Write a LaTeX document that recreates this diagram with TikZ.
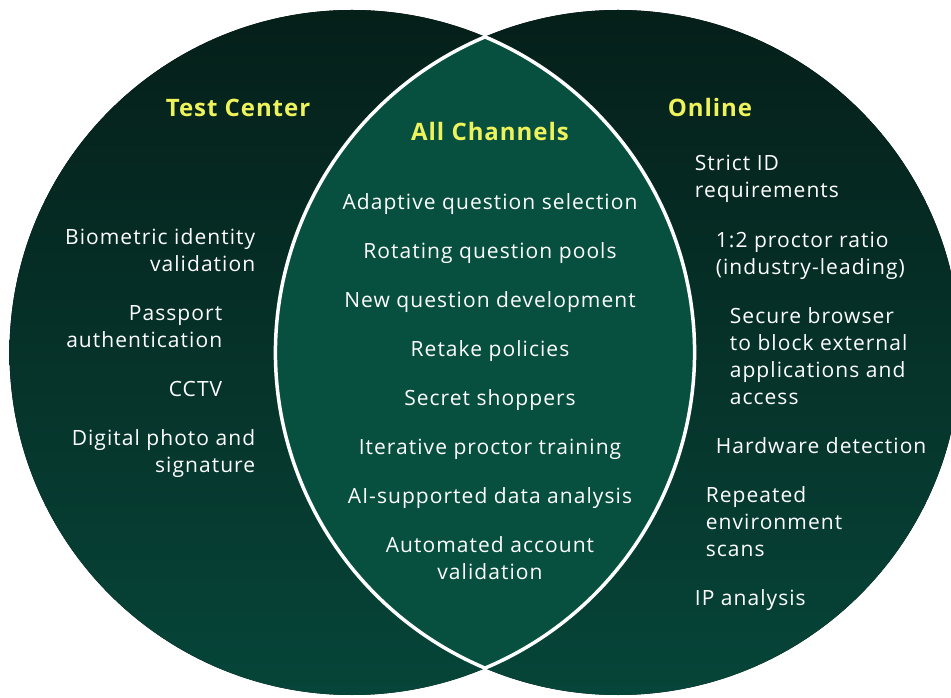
\documentclass[tikz,border=0pt]{standalone}
\usepackage{fontspec}
\setmainfont[LetterSpace=5]{Open Sans}
\newfontfamily\headfont[LetterSpace=4]{Open Sans}
\usetikzlibrary{positioning}
\definecolor{topgreen}{HTML}{051F19}
\definecolor{midgreen}{HTML}{05271F}
\definecolor{lowgreen}{HTML}{064539}
\definecolor{lensgreen}{HTML}{07503F}
\definecolor{headyellow}{HTML}{EEF25B}
\tikzset{ring/.style={top color=topgreen,middle color=midgreen,bottom color=lowgreen},
	 lens/.style={fill=lensgreen,draw=white,line width=3.5pt},
	 head/.style={text=headyellow,font=\headfont\fontsize{24}{27}\selectfont\bfseries,inner sep=0pt,anchor=base},
	 item/.style={text=white,font=\fontsize{21}{27}\selectfont\strut,inner sep=0pt},
	 node distance = 21.6pt
	 }

\begin{document}
\begin{tikzpicture}[x=1pt,y=1pt] % three channels of exam security
	\useasboundingbox (0,0) rectangle (951,697);
	\coordinate (cL) at (352,344.5);
	\coordinate (cR) at (618,344.5);
	\fill[ring] (cL) circle[radius=342.5];
	\fill[ring] (cR) circle[radius=342.5];
	\draw[lens] (485,660.1) arc[start angle=112.85,end angle=247.15,radius=342.5]
	  arc[start angle=-67.15,end angle=67.15,radius=342.5] -- cycle;
	% headings
	\node[head] (tc) at (238,580) {Test Center};
	\node[head] (ac) at (490,556) {All Channels};
	\node[head] (on) at (710,580) {Online};
	% test center
	\node[item,align=right] (bio) [below left=108pt and 55pt of tc.south east] {\strut Biometric identity\\validation};
	\node[item,align=right] (pass) [below left=21.6pt and 33pt of bio.south east] {\strut Passport\\authentication};
	\node[item,align=right] (cctv) [below left=21.6pt and 0pt of pass.south east] {CCTV};
	\node[item,align=right] (photo) [below left=21.6pt and -33pt of cctv.south east] {\strut Digital photo and\\signature};
	% all channels
	\node[item,align=center] (adapt) [below=49pt of ac] {Adaptive question selection};
	\node[item,align=center] (pools) [below=of adapt] {Rotating question pools};
	\node[item,align=center] (newq) [below=of pools] {New question development};
	\node[item,align=center] (retake) [below=of newq] {Retake policies};
	\node[item,align=center] (shop) [below=of retake] {Secret shoppers};
	\node[item,align=center] (train) [below=of shop] {Iterative proctor training};
	\node[item,align=center] (data) [below=of train] {AI-supported data analysis};
	\node[item,align=center] (acct) [below=of data] {\strut Automated account\\validation};
	% online
	\node[item,align=left] (strict) [below right=34pt and 27pt of on.south west] {\strut Strict ID\\requirements};
	\node[item,align=left] (ratio) [below right=22.6pt and 21pt of strict.south west] {\strut 1:2 proctor ratio\\(industry-leading)};
	\node[item,align=left] (browser) [below right=21.6pt and 14pt of ratio.south west] {\strut Secure browser\\to block external\\applications and\\access};
	\node[item,align=left] (hw) [below right=21.6pt and -14pt of browser.south west] {Hardware detection};
	\node[item,align=left] (scan) [below right=21.6pt and -10pt of hw.south west] {\strut Repeated\\environment\\scans};
	\node[item,align=left] (ip) [below right=21.6pt and -11pt of scan.south west] {IP analysis};
\end{tikzpicture}
\end{document}
